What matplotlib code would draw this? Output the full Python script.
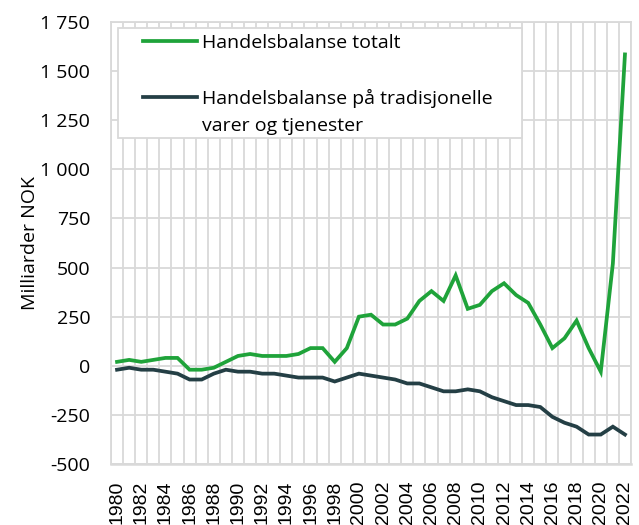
import matplotlib
matplotlib.use("Agg")
import matplotlib.pyplot as plt
from matplotlib.patches import Rectangle
from matplotlib.ticker import FixedLocator, FuncFormatter

# Data (milliarder NOK)
years = list(range(1980, 2023))
totalt = [20, 30, 20, 30, 40, 40, -20, -20, -10, 20,
          50, 60, 50, 50, 50, 60, 90, 90, 20, 90,
          250, 260, 210, 210, 240, 330, 380, 330, 460, 290,
          310, 380, 420, 360, 320, 210, 90, 140, 230, 90,
          -30, 520, 1585]
tradisjonelle = [-20, -10, -20, -20, -30, -40, -70, -70, -40, -20,
                 -30, -30, -40, -40, -50, -60, -60, -60, -80, -60,
                 -40, -50, -60, -70, -90, -90, -110, -130, -130, -120,
                 -130, -160, -180, -200, -200, -210, -260, -290, -310, -350,
                 -350, -310, -350]
y_ticks = [-500, -250, 0, 250, 500, 750, 1000, 1250, 1500, 1750]

groen = "#1fa33a"
moerk = "#243f45"
grid_farge = "#d9d9d9"

plt.rcParams['font.family'] = ['Open Sans', 'DejaVu Sans']

fig = plt.figure(figsize=(6.39, 5.25), dpi=100)
ax = fig.add_axes([111/639, 1 - 464/525, 520/639, 442/525])

x = list(range(len(years)))
l1, = ax.plot(x, totalt, color=groen, lw=2.7, solid_joinstyle='miter', zorder=3)
l2, = ax.plot(x, tradisjonelle, color=moerk, lw=2.7, solid_joinstyle='miter', zorder=3)

ax.set_xlim(-0.5, len(years) - 0.5)
ax.set_ylim(-500, 1750)

# gridlinjer mellom kategoriene
ax.xaxis.set_minor_locator(FixedLocator([i + 0.5 for i in range(-1, len(years))]))
ax.set_xticks(x[::2])
ax.set_xticklabels([str(y) for y in years[::2]], rotation=90,
                   family='Liberation Sans', fontsize=14)
ax.set_yticks(y_ticks)
ax.yaxis.set_major_formatter(FuncFormatter(lambda v, p: f"{v:,.0f}".replace(",", " ")))
ax.tick_params(axis='x', which='both', length=0, pad=12)
ax.tick_params(axis='y', length=0, pad=15, labelsize=14)

ax.grid(True, axis='x', which='minor', color=grid_farge, lw=1.3)
ax.grid(True, axis='y', which='major', color=grid_farge, lw=1.3)
ax.set_axisbelow(True)
for s in ax.spines.values():
    s.set_color(grid_farge)
    s.set_linewidth(1.3)
ax.spines['bottom'].set_linewidth(1.8)

ax.set_ylabel("Milliarder NOK", fontsize=14)
ax.yaxis.set_label_coords(-0.138, 0.5)

# legende med egen ramme
ax.add_patch(Rectangle((118/639, 1 - 138/525), 404/639, 110/525,
                       transform=fig.transFigure, facecolor='white',
                       edgecolor=grid_farge, lw=1.3, zorder=4))
blank, = ax.plot([], [], color='none')
leg = ax.legend([l1, blank, l2, blank],
                ["Handelsbalanse totalt", "", "Handelsbalanse på tradisjonelle", "varer og tjenester"],
                loc='upper left', bbox_to_anchor=(143/639, 1 - 34/525),
                bbox_transform=fig.transFigure, frameon=False, fontsize=14,
                handlelength=2.8, handletextpad=0.25, borderpad=0, labelspacing=0.48,
                borderaxespad=0)
leg.set_zorder(5)

plt.savefig("out.png", dpi=100)
